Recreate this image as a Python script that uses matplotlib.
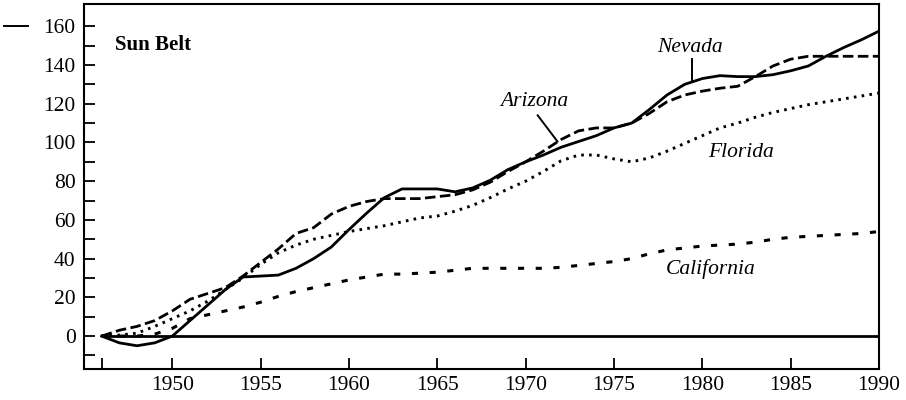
import numpy as np
import matplotlib
matplotlib.use('Agg')
import matplotlib.pyplot as plt
from matplotlib.ticker import FixedLocator
from matplotlib.transforms import blended_transform_factory

years = np.arange(1946, 1991)

nevada = [0, -3.5, -5, -3.5, 0, 8, 16, 24, 30.5, 31,
          31.5, 35, 40, 46, 55, 63.5, 71.5, 76, 76, 76,
          74.5, 76.5, 80.5, 86, 90, 93.5, 97.5, 100.5, 103.5, 107.5,
          110, 117, 124.5, 130, 133, 134.5, 134, 134, 135, 137,
          139.5, 144.5, 149, 153, 157.5]

arizona = [0, 3, 5, 8, 13, 19, 22, 25, 31, 38,
           45, 53, 56, 63, 67, 69.5, 71, 71, 71, 72,
           73, 75.5, 79.5, 85, 90, 95.5, 101.5, 106, 107.5, 107.5,
           110, 115, 121, 124.5, 126.5, 128, 129, 134, 139.5, 143,
           144.5, 144.5, 144.5, 144.5, 144.5]

florida = [0, 0.5, 1.5, 5, 9, 13, 18, 24, 30, 37,
           43, 47, 50, 52, 54, 55.5, 57, 59, 61, 62,
           64.5, 67.5, 71.5, 76, 80, 85, 90.5, 93.5, 93.5, 91.5,
           90, 92, 95.5, 99.5, 103.5, 107.5, 110, 113, 115.5, 117.5,
           119.5, 121, 122.5, 124, 125.5]

california = [0, 0, 0, 1, 4, 9, 11, 13, 15, 17.5,
              20.5, 23, 25, 27, 29, 30.5, 32, 32, 32.5, 33,
              34, 35, 35, 35, 35, 35, 35.5, 36.5, 37.5, 38.5,
              40, 42.5, 44.5, 45.5, 46.5, 47, 47.5, 48.5, 50, 51,
              51.5, 52, 52.5, 53, 54]

xticks = [1946, 1950, 1955, 1960, 1965, 1970, 1975, 1980, 1985, 1990]
xticklabels = ['', '1950', '1955', '1960', '1965', '1970', '1975', '1980', '1985', '1990']
yticks = list(range(0, 161, 20))
yminor = list(range(-10, 151, 20))

plt.rcParams['font.family'] = ['Liberation Serif', 'DejaVu Serif']

fig = plt.figure(figsize=(9.06, 4.0), dpi=100)
ax = fig.add_axes([84 / 906, 1 - 369 / 400, (879 - 84) / 906, (369 - 4) / 400])

ax.plot([1946, 1990], [0, 0], color='black', lw=2.0, solid_capstyle='butt')
ax.plot(years, nevada, color='black', lw=2.0)
ax.plot(years, arizona, color='black', lw=2.0, dashes=(3.8, 1.6))
ax.plot(years, florida, color='black', lw=2.1, dashes=(0.9, 1.8))
ax.plot(years, california, color='black', lw=2.2, dashes=(2.0, 3.8))

ax.set_xlim(1945, 1990)
ax.set_ylim(-17, 171.5)
ax.set_xticks(xticks)
ax.set_xticklabels(xticklabels)
ax.set_yticks(yticks)
ax.yaxis.set_minor_locator(FixedLocator(yminor))
ax.tick_params(axis='both', which='both', direction='in', length=8, width=1.3,
               labelsize=15.5, pad=5)
ax.tick_params(axis='y', which='major', pad=6)
for s in ax.spines.values():
    s.set_linewidth(1.5)

ax.text(1946.75, 150.5, 'Sun Belt', fontsize=15, fontweight='bold',
        ha='left', va='center')
ax.text(1979.3, 149, 'Nevada', fontsize=15.5, style='italic', ha='center', va='center')
ax.plot([1979.4, 1979.4], [143, 131.5], color='black', lw=1.4)
ax.text(1970.5, 121, 'Arizona', fontsize=15.5, style='italic', ha='center', va='center')
ax.plot([1970.68, 1971.8], [114, 100.5], color='black', lw=1.4)
ax.text(1982.2, 95, 'Florida', fontsize=15.5, style='italic', ha='center', va='center')
ax.text(1980.5, 34.6, 'California', fontsize=15.5, style='italic', ha='center', va='center')

# small dash left of the 160 label
tr = blended_transform_factory(fig.transFigure, ax.transData)
ax.plot([4 / 906, 28 / 906], [160, 160], color='black', lw=1.4,
        transform=tr, clip_on=False)

fig.savefig('out.png', dpi=100)
